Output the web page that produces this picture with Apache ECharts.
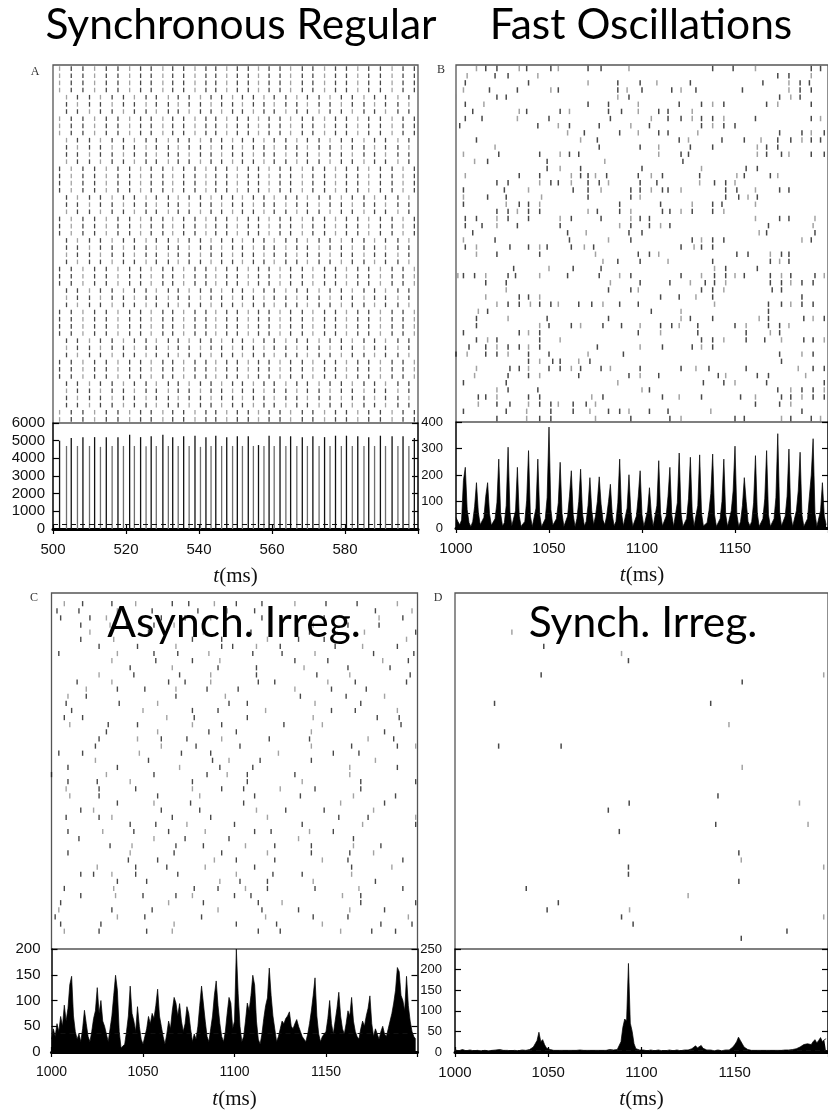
<!DOCTYPE html>
<html>
<head>
<meta charset="utf-8">
<script src="https://cdn.jsdelivr.net/npm/echarts@6.0.0/dist/echarts.min.js"></script>
<style>
html, body { margin: 0; background: #fff; }
#chart { width: 828px; height: 1111px; }
</style>
</head>
<body>
<div id="chart"></div>
<script>
// ---- panel A: synchronous regular (population bursts, ms / spikes per s)
const syncBurstTimes = [
  501.8, 503.7, 505.0, 506.7, 508.2, 510.0, 511.4, 513.0, 514.6, 516.2,
  517.8, 519.3, 521.0, 522.3, 524.0, 525.5, 526.9, 528.3, 530.1, 531.6,
  532.8, 534.3, 535.8, 537.3, 538.9, 540.4, 541.9, 543.3, 544.6, 546.2,
  547.6, 549.2, 550.5, 551.9, 553.5, 554.9, 556.3, 557.8, 559.2, 560.6,
  562.2, 563.8, 565.1, 566.8, 568.3, 569.7, 571.2, 572.9, 574.4, 575.9,
  577.4, 579.0, 580.4, 582.0, 583.5, 585.2, 586.5, 588.1, 589.7, 591.1,
  592.9, 594.5, 595.9, 597.5, 599.0
]
const syncBurstRates = [
  5000, 4700, 5150, 4700, 5200, 4700, 5200, 4650, 5200, 4700,
  5200, 4700, 5330, 4700, 5200, 4680, 5250, 4700, 5330, 4700,
  5200, 4700, 5250, 4700, 5280, 4650, 5200, 4700, 5280, 4700,
  5200, 4700, 5250, 4700, 5250, 4700, 4750, 4700, 5280, 4700,
  5250, 4700, 5250, 4700, 5200, 4700, 5250, 4700, 5200, 4700,
  5280, 4700, 5280, 4700, 5250, 4700, 5200, 4700, 5280, 4700,
  5250, 4700, 5250, 4700, 5150
]
// which alternate burst each neuron (top row first) fires in
const syncRowPhase = [
  0,0,0,0,1,1,1,0,0,0, 1,1,1,1,0,0,0,0,1,1,
  1,0,0,0,1,1,1,1,0,0, 0,1,1,1,0,0,0,0,1,1,
  1,0,0,0,1,1,1,1,0,0
]
const syncMean = 290

// ---- panel B: fast oscillations, 1 ms bins from 1000 ms
const fastRates = [
  40, 25, 12, 30, 180, 229, 70, 20, 5, 25,
  80, 171, 60, 12, 6, 40, 120, 171, 55, 10,
  4, 35, 95, 260, 55, 8, 20, 85, 305, 60,
  8, 6, 65, 229, 45, 6, 5, 25, 105, 292,
  45, 5, 12, 75, 260, 50, 5, 12, 35, 115,
  381, 70, 10, 6, 35, 95, 248, 55, 6, 8,
  45, 120, 216, 50, 5, 35, 100, 222, 55, 8,
  25, 85, 190, 65, 12, 45, 100, 193, 90, 30,
  12, 45, 100, 165, 50, 8, 25, 95, 260, 55,
  8, 12, 75, 201, 60, 6, 8, 45, 120, 216,
  50, 6, 10, 65, 152, 55, 6, 12, 85, 254,
  55, 8, 10, 45, 120, 229, 50, 6, 12, 95,
  283, 55, 6, 8, 35, 110, 267, 60, 6, 12,
  85, 276, 55, 8, 5, 20, 65, 130, 279, 50,
  6, 8, 35, 100, 260, 50, 6, 12, 65, 140,
  309, 50, 6, 25, 85, 190, 100, 25, 8, 25,
  95, 273, 55, 6, 8, 35, 110, 292, 50, 6,
  8, 35, 115, 356, 60, 8, 6, 45, 120, 298,
  50, 6, 12, 65, 140, 286, 50, 6, 8, 35,
  120, 200, 337, 55, 6, 12, 65, 171, 45, 12
]
const fastMean = 57
// spike times (ms) per neuron row, top row first
const fastSpikeRows = [
  [1011,1016,1022,1034,1038,1051,1055,1071,1078,1093,1138,1149,1161,1191,1196],
  [1006,1021,1028,1044,1173,1179,1191],
  [1005,1039,1071,1087,1099,1108,1126,1165,1179,1185,1190],
  [1004,1018,1033,1051,1055,1087,1092,1100,1116,1121,1129,1154,1179,1185,1191],
  [1000,1022,1027,1087,1093,1174,1180,1185],
  [1005,1015,1071,1082,1098,1120,1132,1138,1144,1167,1173,1191],
  [1009,1034,1038,1056,1061,1082,1089,1098,1109,1114,1127],
  [1005,1014,1033,1050,1083,1105,1114,1121,1127,1132,1138,1144,1161,1191,1196],
  [1002,1044,1055,1061,1077,1094,1104,1132,1138,1144,1150],
  [1060,1069,1088,1098,1109,1114,1130,1174,1186,1191,1198],
  [1011,1067,1076,1120,1125,1143,1155,1164,1173,1180,1186,1191,1196],
  [1021,1077,1099,1109,1126,1138,1162,1167,1173],
  [1004,1023,1045,1056,1061,1066,1109,1121,1125,1162,1167,1175,1179,1191,1198],
  [1010,1017,1049,1080,1122],
  [1049,1056,1067,1100,1132,1156,1162],
  [1005,1034,1045,1062,1067,1071,1075,1081,1098,1105,1111,1131,1151,1155,1169,1173],
  [1022,1028,1045,1051,1055,1062,1071,1077,1082,1099,1108,1131,1139,1145,1150],
  [1004,1026,1039,1063,1071,1078,1094,1099,1105,1111,1114,1121,1145,1151,1161,1174,1179],
  [1004,1017,1027,1046,1071,1094,1099,1145,1152,1157,1162],
  [1004,1027,1034,1039,1045,1088,1110,1127,1138,1143,1161],
  [1022,1028,1033,1039,1045,1071,1076,1088,1094,1111,1115,1121,1127,1138,1144],
  [1005,1011,1022,1028,1039,1056,1062,1078,1094,1099,1104,1161,1174,1179,1193],
  [1005,1014,1022,1033,1056,1088,1094,1104,1110,1115,1168,1192],
  [1009,1060,1070,1093,1100,1163,1167,1193],
  [1004,1021,1061,1082,1094,1127,1132,1138,1144,1186,1191],
  [1005,1011,1029,1039,1045,1049,1062,1069,1074,1121,1128,1132,1138],
  [1011,1022,1045,1075,1098,1104,1109,1151,1157,1169,1175,1179],
  [1079,1087,1099,1114,1138,1169,1174,1179],
  [1031,1050,1063,1078,1139,1145,1162],
  [1001,1004,1010,1016,1028,1032,1045,1060,1077,1088,1094,1121,1132,1139,1145,1150,1155,1169,1175,1180,1193,1198],
  [1016,1027,1083,1099,1115,1126,1134,1139,1145,1169,1175,1180,1186,1192],
  [1027,1082,1094,1098,1132,1138,1144,1170,1175],
  [1016,1034,1039,1045,1110,1120,1129,1138,1186],
  [1022,1028,1034,1040,1045,1051,1055,1066,1073,1079,1088,1098,1139,1168,1175,1180,1186,1192],
  [1012,1017,1105,1121,1168],
  [1011,1028,1049,1082,1121,1126,1138,1163,1168,1187,1192,1198],
  [1011,1045,1050,1062,1067,1079,1089,1099,1110,1116,1120,1130,1150,1156,1168,1174,1179],
  [1004,1034,1039,1045,1098,1110,1130,1156,1169,1174],
  [1011,1017,1022,1045,1056,1132,1138,1144,1156,1166,1175,1187,1192,1198],
  [1007,1016,1022,1028,1034,1039,1045,1076,1099,1111,1127,1132,1138],
  [1000,1006,1016,1022,1028,1039,1050,1071,1090,1174,1186,1192],
  [1039,1045,1052,1056,1066,1072,1175],
  [1011,1029,1034,1039,1050,1056,1062,1067,1078,1083,1099,1121,1129,1136,1156,1184,1192,1198],
  [1010,1028,1039,1045,1066,1093,1099,1109,1141,1145,1162,1168,1188],
  [1004,1027,1087,1133,1144,1150,1167,1198],
  [1022,1028,1044,1100,1104,1173,1180,1186,1192,1198],
  [1012,1016,1022,1039,1045,1073,1079,1111,1120,1132,1153,1161,1175,1180,1186,1192,1198],
  [1012,1022,1029,1039,1045,1051,1055,1063,1070,1075,1161,1174,1180],
  [1004,1027,1038,1051,1063,1072,1082,1088,1093,1104,1114,1137,1186],
  [1022,1038,1045,1051,1075,1094,1115,1121,1150,1155,1175,1180,1191,1196]
]

// ---- panel C: asynchronous irregular, 1 ms bins from 1000 ms
const asyncRates = [
  25, 45, 30, 55, 40, 69, 50, 91, 60, 85,
  131, 147, 70, 40, 25, 35, 20, 45, 81, 55,
  30, 20, 40, 65, 80, 125, 75, 100, 60, 50,
  35, 20, 45, 70, 110, 149, 120, 40, 8, 5,
  15, 40, 70, 128, 75, 60, 40, 88, 50, 25,
  15, 30, 45, 69, 55, 75, 65, 90, 122, 70,
  50, 30, 15, 35, 60, 45, 80, 106, 95, 70,
  94, 60, 40, 55, 88, 75, 45, 20, 35, 25,
  50, 90, 128, 125, 60, 30, 20, 45, 70, 110,
  138, 90, 55, 30, 20, 40, 75, 106, 95, 45,
  60, 200, 113, 50, 20, 30, 60, 95, 80, 110,
  149, 130, 60, 25, 15, 35, 65, 90, 105, 163,
  110, 70, 45, 20, 30, 45, 60, 55, 65, 70,
  78, 50, 45, 55, 63, 50, 40, 30, 25, 20,
  35, 55, 80, 110, 144, 70, 35, 20, 30, 35,
  40, 65, 100, 55, 35, 60, 85, 116, 70, 45,
  35, 55, 80, 70, 106, 60, 40, 30, 25, 45,
  60, 50, 70, 85, 109, 55, 30, 45, 35, 25,
  40, 50, 35, 30, 45, 60, 75, 95, 120, 164,
  156, 110, 100, 80, 147, 90, 60, 40, 30, 25
]
const asyncMean = 37
const asyncSpikeRows = [
  [1007,1017,1033,1046,1066,1075,1089,1101,1115,1133,1150,1167,1189],
  [1003,1015,1036,1055,1080,1096,1111,1177,1197],
  [1005,1021,1030,1060,1073,1087,1115,1149,1179,1192],
  [1016,1032,1041,1056,1067,1103,1126,1143,1162,1179],
  [1021,1053,1070,1083,1109,1141,1171,1199],
  [1016,1034,1077,1093,1118,1135,1149,1194],
  [1026,1047,1068,1093,1099,1112,1125,1155,1170,1189],
  [1004,1036,1056,1069,1086,1110,1126,1144,1176,1198],
  [1033,1057,1077,1092,1133,1151,1181,1195],
  [1043,1066,1091,1112,1138,1162,1185],
  [1026,1045,1070,1087,1112,1145,1163,1196],
  [1014,1033,1064,1073,1087,1113,1122,1151,1166,1194],
  [1019,1036,1051,1068,1085,1102,1133,1153,1172],
  [1009,1019,1068,1095,1136,1161,1182],
  [1008,1037,1058,1097,1107,1144,1169],
  [1011,1050,1077,1091,1117,1153,1166,1189],
  [1007,1017,1063,1078,1107,1143,1178,1190],
  [1010,1031,1047,1077,1093,1127,1148,1191],
  [1030,1058,1086,1101,1142,1182],
  [1026,1047,1060,1074,1093,1119,1141,1173,1187],
  [1024,1060,1079,1103,1142,1164,1189,1199],
  [1004,1017,1048,1071,1087,1124,1154,1168],
  [1024,1053,1088,1097,1114,1142,1177],
  [1009,1036,1070,1092,1110,1163,1189],
  [1000,1030,1056,1085,1096,1107,1133,1163],
  [1009,1025,1043,1077,1107,1137,1169,1199],
  [1008,1026,1046,1077,1093,1105,1125,1144,1169],
  [1010,1026,1058,1081,1111,1136,1165,1188],
  [1036,1056,1076,1105,1158,1182],
  [1016,1023,1060,1081,1112,1128,1149,1176],
  [1008,1026,1033,1066,1087,1118,1157,1173,1199],
  [1043,1057,1074,1100,1137,1170,1199],
  [1009,1028,1045,1064,1084,1111,1120,1141,1154],
  [1015,1056,1073,1097,1135,1165],
  [1032,1044,1068,1083,1106,1122,1142,1165,1180],
  [1009,1043,1067,1093,1118,1142,1163,1176],
  [1042,1058,1089,1101,1122,1148,1162,1192],
  [1025,1046,1063,1084,1111,1164,1186],
  [1016,1023,1033,1046,1069,1101,1121,1137,1164],
  [1036,1052,1092,1103,1118,1143,1177],
  [1007,1034,1078,1091,1106,1118,1144,1168,1192],
  [1016,1035,1050,1068,1077,1100,1109,1159,1169],
  [1005,1064,1083,1113,1126,1169,1199],
  [1004,1033,1055,1091,1115,1135,1163,1182],
  [1002,1036,1051,1082,1117,1143,1162,1195],
  [1005,1027,1067,1101,1123,1148,1180,1197],
  [1007,1026,1052,1066,1113,1125,1158,1175,1188]
]

// ---- panel D: synchronous irregular, 1 ms bins from 1000 ms
const irregRates = [
  5, 4, 3, 5, 6, 4, 3, 4, 5, 4,
  3, 5, 4, 4, 3, 2, 4, 5, 3, 4,
  4, 3, 5, 4, 6, 5, 4, 3, 4, 5,
  3, 4, 4, 5, 3, 4, 5, 6, 4, 5,
  6, 8, 12, 20, 28, 48, 25, 30, 18, 10,
  7, 6, 5, 4, 5, 4, 3, 4, 5, 4,
  3, 4, 5, 4, 3, 4, 4, 5, 3, 4,
  5, 4, 3, 4, 5, 4, 3, 4, 5, 4,
  3, 4, 5, 6, 4, 5, 6, 6, 10, 25,
  60, 80, 75, 215, 70, 50, 20, 8, 6, 5,
  4, 5, 4, 3, 4, 5, 4, 3, 4, 5,
  4, 3, 4, 3, 4, 5, 4, 3, 4, 5,
  4, 3, 4, 5, 4, 5, 6, 8, 12, 15,
  10, 14, 16, 9, 7, 5, 4, 5, 4, 3,
  4, 5, 4, 3, 4, 5, 6, 5, 8, 12,
  18, 25, 36, 28, 20, 12, 8, 6, 5, 4,
  3, 4, 5, 4, 3, 4, 5, 4, 3, 4,
  5, 4, 3, 4, 5, 4, 4, 5, 6, 5,
  4, 6, 7, 8, 9, 12, 15, 18, 14, 20,
  22, 18, 25, 30, 22, 28, 35, 25, 30, 32
]
const irregMean = 4
const irregSpikeTimes = [
  1030.5, 1047.6, 1046.2, 1089.3, 1093.0, 1154.0, 1197.7, 1021.2, 1137.1, 1146.9,
  1023.4, 1056.9, 1154.0, 1141.0, 1093.4, 1184.7, 1082.2, 1139.8, 1189.3, 1088.1,
  1152.2, 1153.5, 1093.0, 1093.0, 1197.7, 1152.2, 1038.2, 1125.0, 1055.4, 1049.4,
  1093.6, 1089.3, 1095.5, 1197.7, 1178.0, 1153.5
]
const irregSpikeRows = [
  44, 42, 38, 41, 40, 37, 38, 34, 34, 31,
  28, 28, 25, 21, 20, 20, 19, 17, 17, 16,
  13, 12, 11, 10, 11, 9, 8, 7, 6, 5,
  5, 4, 3, 4, 2, 1
]

// ---------------------------------------------------------------- layout
const TXT = '#111'
const SANS = 'Liberation Sans'
const plain = v => String(v)

function rowsToPoints(rows, topRow) {
  const pts = []
  rows.forEach((row, r) => row.forEach(t => pts.push([t, topRow - r + 0.5])))
  return pts
}
function binsToPoints(values, start) {
  return values.map((v, i) => [start + i, v])
}
function syncRaster() {
  const pts = []
  syncRowPhase.forEach((ph, r) => {
    syncBurstTimes.forEach((t, j) => { if (j % 2 === ph) pts.push([t, 49 - r + 0.5]) })
  })
  return pts
}

const panels = [
  { raster: { left: 53, top: 65, width: 365, height: 358 }, hist: { left: 53, top: 423, width: 365, height: 106 },
    x: [500, 600], xInt: 20, yMax: 6000, yInt: 1000, yMargin: 8, yFontSize: 15, xFontSize: 15,
    spikes: syncRaster(), tick: [1.3, 4.6] },
  { raster: { left: 456, top: 65, width: 373, height: 357 }, hist: { left: 456, top: 422, width: 373, height: 106 },
    x: [1000, 1200], xInt: 50, yMax: 400, yInt: 100, yMargin: 13, yFontSize: 13, xFontSize: 15,
    spikes: rowsToPoints(fastSpikeRows, 49), tick: [1.5, 5.4] },
  { raster: { left: 51.5, top: 593, width: 366, height: 356 }, hist: { left: 51.5, top: 949, width: 366, height: 108 },
    x: [1000, 1200], xInt: 50, yMax: 200, yInt: 50, yMargin: 11, yFontSize: 15, xFontSize: 14,
    spikes: rowsToPoints(asyncSpikeRows, 48), tick: [1.4, 5.2] },
  { raster: { left: 455, top: 593, width: 374, height: 356 }, hist: { left: 455, top: 949, width: 374, height: 107 },
    x: [1000, 1200], xInt: 50, yMax: 250, yInt: 50, yMargin: 13, yFontSize: 13, xFontSize: 15,
    spikes: irregSpikeTimes.map((t, i) => [t, irregSpikeRows[i] + 0.5]), tick: [1.5, 5.2] }
]

const hidden = { axisLine: { show: false }, axisTick: { show: false }, axisLabel: { show: false }, splitLine: { show: false } }
const grid = [], xAxis = [], yAxis = [], series = []

panels.forEach((p, k) => {
  grid.push(Object.assign({ show: true, borderColor: '#555', borderWidth: 1.3, backgroundColor: 'transparent' }, p.raster))
  grid.push(Object.assign({ show: false }, p.hist))
  const rg = 2 * k, hg = 2 * k + 1
  // raster axes
  xAxis.push(Object.assign({ type: 'value', gridIndex: rg, min: p.x[0], max: p.x[1] }, hidden))
  yAxis.push(Object.assign({ type: 'value', gridIndex: rg, min: 0, max: 50 }, hidden))
  // histogram bottom / top axes
  xAxis.push({
    type: 'value', gridIndex: hg, position: 'bottom', min: p.x[0], max: p.x[1], interval: p.xInt,
    axisLine: { lineStyle: { color: '#000', width: 1.5 } },
    axisTick: { inside: true, length: 5, lineStyle: { color: '#000', width: 1.2 } },
    axisLabel: { showMaxLabel: false, margin: 13, color: TXT, fontSize: p.xFontSize, fontFamily: SANS, formatter: plain },
    splitLine: { show: false },
    name: '{i|t}{n|(ms)}', nameLocation: 'middle', nameGap: 37,
    nameTextStyle: { rich: {
      i: { fontFamily: 'Liberation Serif', fontStyle: 'italic', fontSize: 21, color: TXT },
      n: { fontFamily: 'Liberation Serif', fontSize: 21, color: TXT }
    } }
  })
  xAxis.push({
    type: 'value', gridIndex: hg, position: 'top', min: p.x[0], max: p.x[1], interval: p.xInt,
    axisLine: { lineStyle: { color: '#000', width: 3 } },
    axisTick: { inside: true, length: 5, lineStyle: { color: '#000', width: 1.2 } },
    axisLabel: { show: false }, splitLine: { show: false }
  })
  yAxis.push({
    type: 'value', gridIndex: hg, position: 'left', min: 0, max: p.yMax, interval: p.yInt,
    axisLine: { show: true, lineStyle: { color: '#000', width: 1.5 } },
    axisTick: { show: true, inside: true, length: 6, lineStyle: { color: '#000', width: 1.2 } },
    axisLabel: { margin: p.yMargin, color: TXT, fontSize: p.yFontSize, fontFamily: SANS, formatter: plain },
    splitLine: { show: false }
  })
  yAxis.push({
    type: 'value', gridIndex: hg, position: 'right', min: 0, max: p.yMax, interval: p.yInt,
    axisLine: { show: true, lineStyle: { color: '#000', width: 1.5 } },
    axisTick: { show: true, inside: true, length: 6, lineStyle: { color: '#000', width: 1.2 } },
    axisLabel: { show: false }, splitLine: { show: false }
  })

  series.push({
    type: 'scatter', xAxisIndex: 3 * k, yAxisIndex: 3 * k,
    data: p.spikes, symbol: 'rect', symbolSize: p.tick, silent: true,
    itemStyle: { color: q => (q.dataIndex % 3 === 0 ? '#8c8c8c' : '#1a1a1a') }
  })
})

const meanLine = v => ({
  silent: true, symbol: 'none', label: { show: false },
  lineStyle: { type: [5, 4], color: '#111', width: 1 },
  data: [{ yAxis: v }]
})

// A: thin burst lines
series.push({
  type: 'bar', xAxisIndex: 1, yAxisIndex: 1, barWidth: 1.3, silent: true,
  data: syncBurstTimes.map((t, i) => [t, syncBurstRates[i]]),
  itemStyle: { color: q => (q.dataIndex % 2 === 0 ? '#111' : '#6e6e6e') },
  markLine: meanLine(syncMean)
})
const filled = (k, values, mean) => ({
  type: 'line', xAxisIndex: 3 * k + 1, yAxisIndex: 3 * k + 1, silent: true,
  data: binsToPoints(values, 1000), symbol: 'none',
  lineStyle: { color: '#000', width: 0.7 },
  areaStyle: { color: '#000', opacity: 1 },
  markLine: meanLine(mean)
})
series.push(filled(1, fastRates, fastMean))
series.push(filled(2, asyncRates, asyncMean))
series.push(filled(3, irregRates, irregMean))

const title = (text, x, y) => ({
  type: 'text', x, y, z: 100,
  style: { text, font: '42.5px Lato', fill: '#000', align: 'center', textAlign: 'center', verticalAlign: 'middle', textVerticalAlign: 'middle' }
})
const letter = (text, x, y) => ({
  type: 'text', x, y, z: 100,
  style: { text, font: '12px Liberation Serif', fill: '#333', align: 'center', textAlign: 'center', verticalAlign: 'middle', textVerticalAlign: 'middle' }
})

const chart = echarts.init(document.getElementById('chart'), null, { renderer: 'canvas' })
chart.setOption({
  animation: false,
  backgroundColor: '#fff',
  grid, xAxis, yAxis, series,
  graphic: [
    title('Synchronous Regular', 241, 25),
    title('Fast Oscillations', 641, 25),
    title('Asynch. Irreg.', 234, 623),
    title('Synch. Irreg.', 643, 623),
    letter('A', 35, 72), letter('B', 441, 70), letter('C', 34, 598), letter('D', 438, 598)
  ]
})
</script>
</body>
</html>
